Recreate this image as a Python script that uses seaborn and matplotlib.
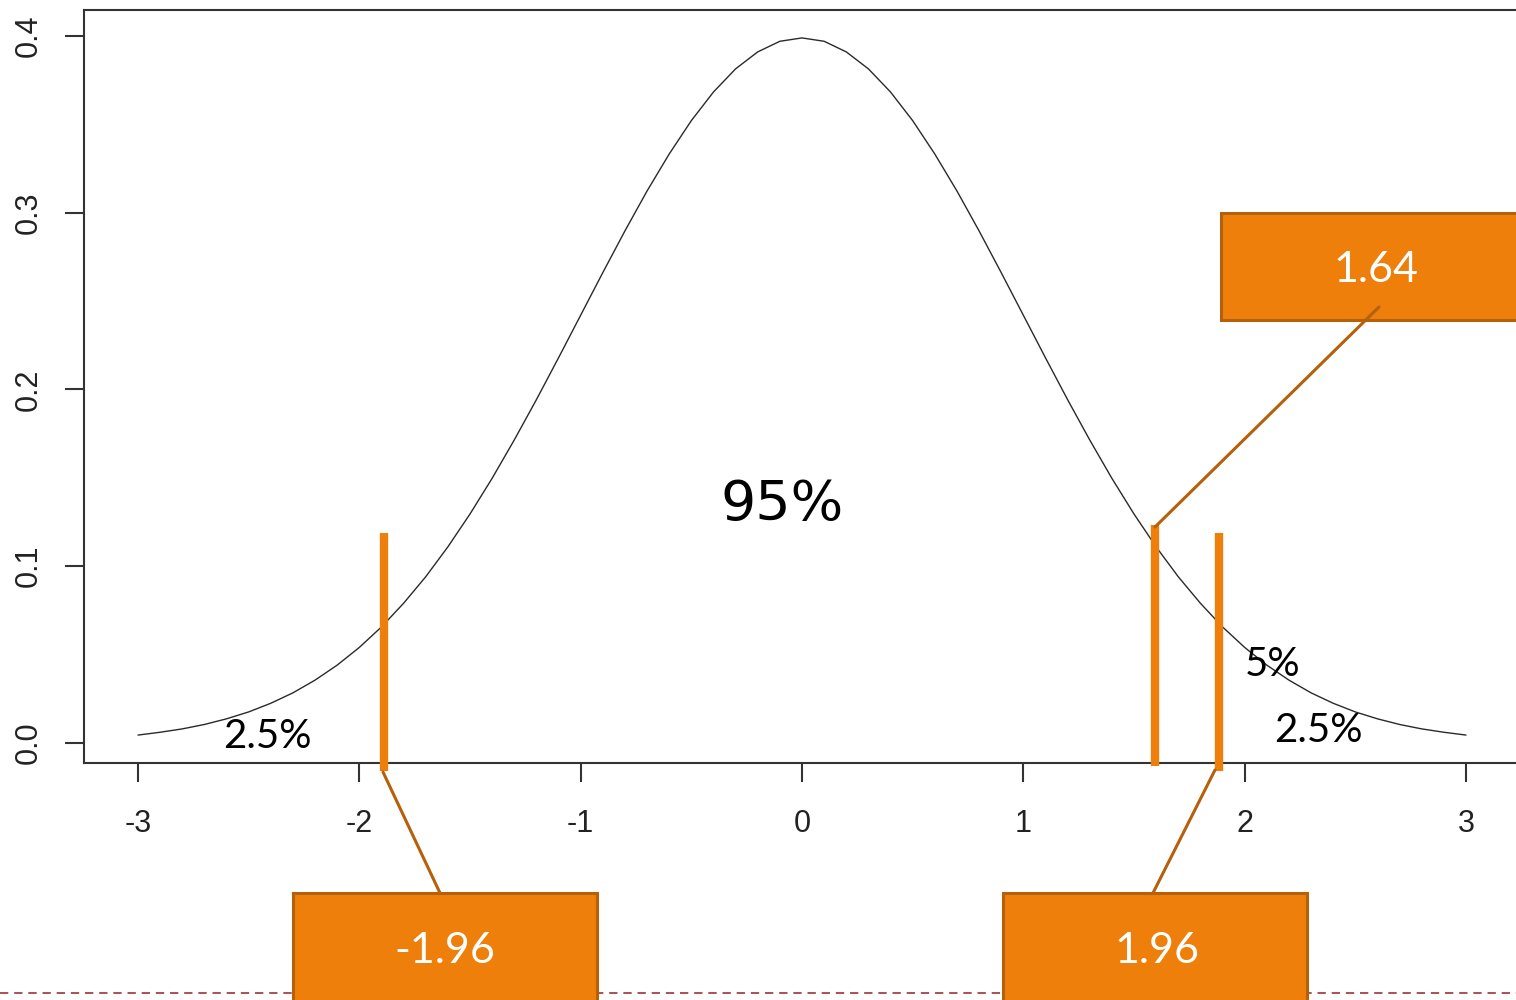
import numpy as np
import pandas as pd
import seaborn as sns
import matplotlib.pyplot as plt
from matplotlib.patches import Rectangle
from matplotlib.lines import Line2D

# Density curve (step 0.1)
curve_x = [-3.0, -2.9, -2.8, -2.7, -2.6, -2.5, -2.4, -2.3, -2.2, -2.1,
           -2.0, -1.9, -1.8, -1.7, -1.6, -1.5, -1.4, -1.3, -1.2, -1.1,
           -1.0, -0.9, -0.8, -0.7, -0.6, -0.5, -0.4, -0.3, -0.2, -0.1,
           0.0, 0.1, 0.2, 0.3, 0.4, 0.5, 0.6, 0.7, 0.8, 0.9,
           1.0, 1.1, 1.2, 1.3, 1.4, 1.5, 1.6, 1.7, 1.8, 1.9,
           2.0, 2.1, 2.2, 2.3, 2.4, 2.5, 2.6, 2.7, 2.8, 2.9, 3.0]
curve_y = [0.0044, 0.0060, 0.0079, 0.0104, 0.0136, 0.0175, 0.0224, 0.0283, 0.0355, 0.0440,
           0.0540, 0.0656, 0.0790, 0.0940, 0.1109, 0.1295, 0.1497, 0.1714, 0.1942, 0.2179,
           0.2420, 0.2661, 0.2897, 0.3123, 0.3332, 0.3521, 0.3683, 0.3814, 0.3910, 0.3970,
           0.3989, 0.3970, 0.3910, 0.3814, 0.3683, 0.3521, 0.3332, 0.3123, 0.2897, 0.2661,
           0.2420, 0.2179, 0.1942, 0.1714, 0.1497, 0.1295, 0.1109, 0.0940, 0.0790, 0.0656,
           0.0540, 0.0440, 0.0355, 0.0283, 0.0224, 0.0175, 0.0136, 0.0104, 0.0079, 0.0060, 0.0044]

# Orange cut-off markers (where they are drawn on the plot)
cut_x = [-1.89, 1.595, 1.885]
cut_top = [0.119, 0.123, 0.119]
cut_bottom = [-0.016, -0.013, -0.016]

# Labels
box_labels = ["-1.96", "1.96", "1.64"]
area_labels = ["95%", "2.5%", "5%", "2.5%"]
x_ticks = [-3, -2, -1, 0, 1, 2, 3]
y_ticks = [0.0, 0.1, 0.2, 0.3, 0.4]

orange = "#EE7F0B"
brown = "#B5600A"
W, H = 1516, 1000

sns.set_style("white")
fig = plt.figure(figsize=(W / 100, H / 100), dpi=100)
ax = fig.add_axes([84 / W, 237 / H, 1436 / W, 753 / H])

def fx(px):
    return px / W

def fy(py):
    return 1 - py / H

# Curve
df = pd.DataFrame({"x": curve_x, "y": curve_y})
sns.lineplot(data=df, x="x", y="y", color="#2a2a2a", linewidth=1.0, ax=ax)

# Orange vertical lines
ax.vlines(cut_x, cut_bottom, cut_top, color=orange, linewidth=6, clip_on=False, zorder=3)

ax.set_xlim(-3.244, 3.244)
ax.set_ylim(-0.0114, 0.4147)
ax.set_xticks(x_ticks)
ax.set_xticklabels([str(t) for t in x_ticks])
ax.set_yticks(y_ticks)
ax.set_yticklabels(["%.1f" % t for t in y_ticks], rotation=90, va="center")
ax.set_xlabel("")
ax.set_ylabel("")
for side in ["left", "bottom", "top", "right"]:
    ax.spines[side].set_color("#333333")
    ax.spines[side].set_linewidth(1.5)
ax.tick_params(axis="both", bottom=True, left=True, direction="out", length=14, width=1.5,
               color="#333333", labelcolor="#222222", labelsize=22)
ax.tick_params(axis="x", pad=19)
ax.tick_params(axis="y", pad=15)
for lab in ax.get_xticklabels() + ax.get_yticklabels():
    lab.set_family(["Liberation Sans", "DejaVu Sans"])

# Dashed line at the bottom
fig.add_artist(Line2D([0, 1], [fy(993), fy(993)], transform=fig.transFigure,
                      color="#A0303A", linewidth=1.2, linestyle=(0, (5, 3.5)), zorder=1))

# Callout boxes
boxes = [(293, 893, 597, 1010), (1003, 893, 1307, 1010), (1221, 213, 1525, 320)]
text_pos = [(445, 951), (1157, 951), (1376, 270)]
for (x0, y0, x1, y1), (cx, cy), lab in zip(boxes, text_pos, box_labels):
    fig.add_artist(Rectangle((fx(x0), fy(y1)), fx(x1) - fx(x0), fy(y0) - fy(y1),
                             transform=fig.transFigure, facecolor=orange,
                             edgecolor=brown, linewidth=2.2, zorder=5))
    fig.text(fx(cx), fy(cy), lab, color="white", fontsize=31, family=["Lato", "DejaVu Sans"],
             ha="center", va="center", zorder=7)

# Connector lines
connectors = [((383, 772), (440, 893)), ((1155, 527), (1379, 307)), ((1215, 770), (1153, 893))]
for (ax0, ay0), (ax1, ay1) in connectors:
    fig.add_artist(Line2D([fx(ax0), fx(ax1)], [fy(ay0), fy(ay1)], transform=fig.transFigure,
                          color=brown, linewidth=2.2, zorder=6))

# Area labels
fig.text(fx(782), fy(505), area_labels[0], fontsize=40, color="black",
         family=["DejaVu Sans"], ha="center", va="center")
area_pos = [(267, 737), (1273, 665), (1318, 730)]
for (px, py), lab in zip(area_pos, area_labels[1:]):
    fig.text(fx(px), fy(py), lab, fontsize=29, color="black",
             family=["Lato", "DejaVu Sans"], ha="center", va="center")

fig.savefig("out.png", dpi=100)
